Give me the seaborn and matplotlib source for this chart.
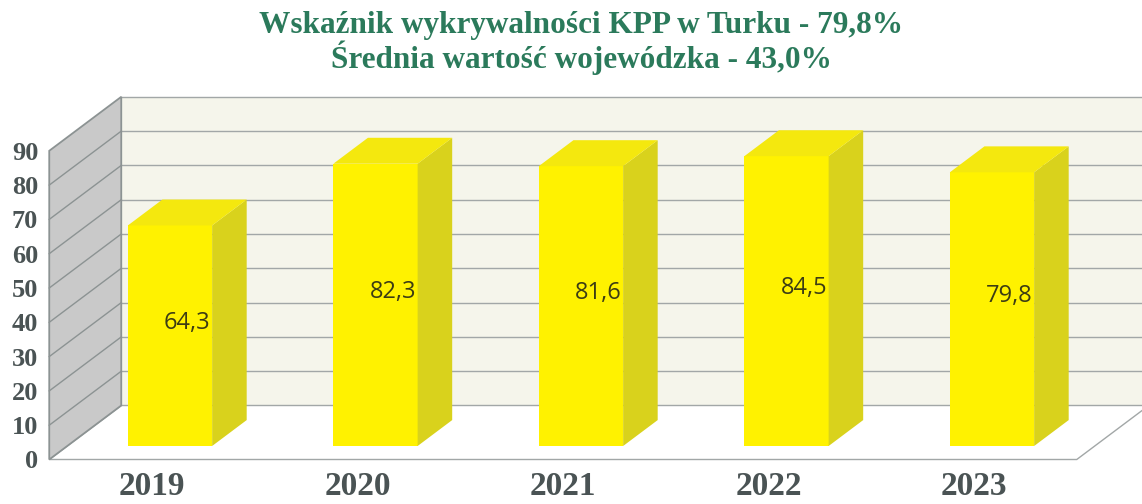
import numpy as np
import pandas as pd
import matplotlib
matplotlib.use("Agg")
import matplotlib.pyplot as plt
import seaborn as sns
from matplotlib.patches import Polygon

# ==========================================
# DATA
# ==========================================
years = ['2019', '2020', '2021', '2022', '2023']
values = [64.3, 82.3, 81.6, 84.5, 79.8]
value_labels = ['64,3', '82,3', '81,6', '84,5', '79,8']
y_ticks = [0, 10, 20, 30, 40, 50, 60, 70, 80, 90]
title_lines = ['Wskaźnik wykrywalności KPP w Turku - 79,8%',
               'Średnia wartość wojewódzka - 43,0%']

# ==========================================
# LOOK / FAKE 3D GEOMETRY
# ==========================================
W_PX, H_PX = 1142, 504
SX, SY = 205.5, 3.43          # pixels per category / per value unit
X0_PX, Y0_PX = 170, 446       # where category 0, value 0 of the bar front plane sits
DX, DY = 72 / SX, 54 / SY     # full floor depth in data units
F_BAR0, F_BAR1 = 0.25, 0.73   # bar front / back as fraction of floor depth
WALL_TOP = 90

GREEN = '#2B7A5B'
AXIS_TXT = '#4A5354'
GRID = '#A2A7A7'
BAR_FRONT = '#FFF200'
BAR_TOP = '#F4E80E'
BAR_SIDE = '#D9D21C'


def P(x, v, f):
    """point at category x, value v, depth fraction f -> data coords of the bar front plane"""
    return (x + (f - F_BAR0) * DX, v + (f - F_BAR0) * DY)


plot_df = pd.DataFrame({'rok': years, 'wskaznik': values})

fig = plt.figure(figsize=(W_PX / 100, H_PX / 100), dpi=100)
fig.patch.set_facecolor('white')
ax = fig.add_axes([0, 0, 1, 1])
ax.set_facecolor('none')

sns.barplot(data=plot_df, x='rok', y='wskaznik', color=BAR_FRONT, saturation=1,
            width=0.41, linewidth=0, zorder=4, ax=ax)
bars = list(ax.patches)

xl, xr = -0.5, len(years) - 0.5

# back wall
back = [P(xl, 0, 1), P(xr, 0, 1), P(xr, WALL_TOP, 1), P(xl, WALL_TOP, 1)]
ax.add_patch(Polygon(back, closed=True, facecolor='#F5F5EB', edgecolor='none', zorder=0))
for t in y_ticks:
    (a, b), (c, d) = P(xl, t, 1), P(xr, t, 1)
    ax.plot([a, c], [b, d], color=GRID, lw=1.0, zorder=1)

# floor
floor = [P(xl, 0, 0), P(xr, 0, 0), P(xr, 0, 1), P(xl, 0, 1)]
ax.add_patch(Polygon(floor, closed=True, facecolor='white', edgecolor=GRID, lw=1.0, zorder=1))

# side wall
side = [P(xl, 0, 0), P(xl, 0, 1), P(xl, WALL_TOP, 1), P(xl, WALL_TOP, 0)]
ax.add_patch(Polygon(side, closed=True, facecolor='#C9C9C9', edgecolor='#8C9393', lw=1.3, zorder=2))
for t in y_ticks[1:-1]:
    (a, b), (c, d) = P(xl, t, 0), P(xl, t, 1)
    ax.plot([a, c], [b, d], color='#8C9393', lw=1.0, zorder=2)

# bar side and top faces, built from the seaborn bars
ddx, ddy = (F_BAR1 - F_BAR0) * DX, (F_BAR1 - F_BAR0) * DY
for bar, lab in zip(bars, value_labels):
    x1 = bar.get_x()
    x2 = x1 + bar.get_width()
    h = bar.get_height()
    ax.add_patch(Polygon([(x2, 0), (x2 + ddx, ddy), (x2 + ddx, h + ddy), (x2, h)],
                         closed=True, facecolor=BAR_SIDE, edgecolor='none', zorder=4))
    ax.add_patch(Polygon([(x1, h), (x2, h), (x2 + ddx, h + ddy), (x1 + ddx, h + ddy)],
                         closed=True, facecolor=BAR_TOP, edgecolor='none', zorder=4))
    cx = (x1 + x2) / 2 + ddx / 2
    ax.text(cx, h / 2 + ddy / 2, lab, ha='center', va='center', fontsize=17,
            family='Open Sans', color='#3C3C14', zorder=6)

# limits so one data unit maps to the measured pixels
ax.set_xlim(-X0_PX / SX, (W_PX - X0_PX) / SX)
ax.set_ylim(-(H_PX - Y0_PX) / SY, Y0_PX / SY)

# axes sit on the front edge of the floor
fx, fy = P(xl, 0, 0)
ax.spines['bottom'].set_position(('data', fy))
ax.spines['left'].set_position(('data', fx))
for s in ax.spines.values():
    s.set_visible(False)
ax.set_xticks(np.arange(len(years)) + fx - xl, labels=years)
ax.set_yticks(np.array(y_ticks) + fy, labels=[str(t) for t in y_ticks])
ax.tick_params(axis='x', length=0, pad=8.5, labelsize=24, labelcolor=AXIS_TXT)
ax.tick_params(axis='y', length=0, pad=8, labelsize=19, labelcolor=AXIS_TXT)
for lbl in ax.get_xticklabels() + ax.get_yticklabels():
    lbl.set_family('Liberation Serif')
    lbl.set_fontweight('bold')
ax.set_xlabel('')
ax.set_ylabel('')

fig.text(581 / W_PX, 1 - 33 / H_PX, title_lines[0], ha='center', va='baseline',
         fontsize=22.5, family='Liberation Serif', fontweight='bold', color=GREEN)
fig.text(581 / W_PX, 1 - 68 / H_PX, title_lines[1], ha='center', va='baseline',
         fontsize=22.5, family='Liberation Serif', fontweight='bold', color=GREEN)

plt.savefig('out.png', dpi=100)
plt.close()
